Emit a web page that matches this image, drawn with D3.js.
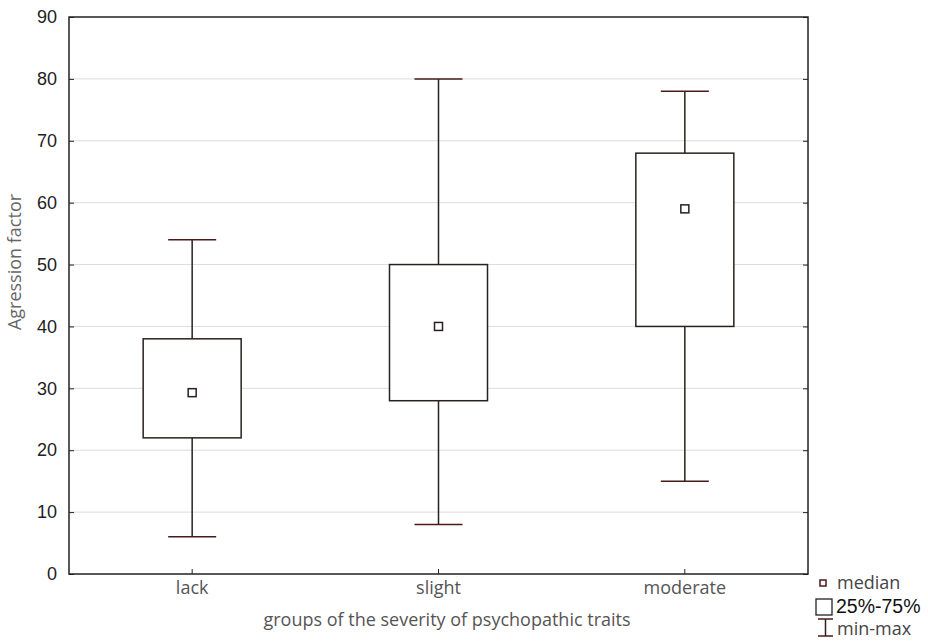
<!DOCTYPE html>
<html><head><meta charset="utf-8">
<script src="https://cdn.jsdelivr.net/npm/d3@7"></script>
<style>body{margin:0;background:#fff}</style>
</head><body>
<svg id="c" width="928" height="641"></svg>
<script>
const categories = ["lack", "slight", "moderate"];
const minVals = [6, 8, 15];
const q1Vals = [22, 28, 40];
const medianVals = [29.3, 40, 59];
const q3Vals = [38, 50, 68];
const maxVals = [54, 80, 78];
const yTicks = [0, 10, 20, 30, 40, 50, 60, 70, 80, 90];

const svg = d3.select("#c");
const L = 69, R = 808, T = 17, B = 574;
const x = d3.scaleBand().domain(categories).range([L, R]);
const y = d3.scaleLinear().domain([0, 90]).range([B, T]);

// grid
svg.append("g").selectAll("line").data(yTicks.filter(d => d > 0 && d < 90)).join("line")
  .attr("x1", L).attr("x2", R).attr("y1", d => y(d)).attr("y2", d => y(d))
  .attr("stroke", "#dcdcdc").attr("stroke-width", 1);

// axes
const gy = svg.append("g").attr("transform", `translate(${L},0)`)
  .call(d3.axisLeft(y).tickValues(yTicks).tickSize(-5).tickPadding(12));
gy.select(".domain").remove();
gy.selectAll("text").attr("font-family", "Liberation Sans, Arial").attr("font-size", 18).attr("fill", "#222");
gy.selectAll("line").attr("stroke", "#222");
const gyr = svg.append("g").attr("transform", `translate(${R},0)`)
  .call(d3.axisRight(y).tickValues(yTicks).tickSize(-5).tickFormat(""));
gyr.select(".domain").remove();
gyr.selectAll("line").attr("stroke", "#222");

const gx = svg.append("g").attr("transform", `translate(0,${B})`)
  .call(d3.axisBottom(x).tickSize(-5).tickPadding(7));
gx.select(".domain").remove();
gx.selectAll("text").attr("font-family", "Open Sans").attr("font-size", 18).attr("fill", "#555");
gx.selectAll("line").attr("stroke", "#222");

svg.append("rect").attr("x", L).attr("y", T).attr("width", R - L).attr("height", B - T)
  .attr("fill", "none").attr("stroke", "#222").attr("stroke-width", 1.5);

// boxes
const boxW = 98, capW = 48;
const g = svg.append("g");
categories.forEach((c, i) => {
  const cx = x(c) + x.bandwidth() / 2;
  g.append("line").attr("x1", cx).attr("x2", cx).attr("y1", y(maxVals[i])).attr("y2", y(minVals[i]))
    .attr("stroke", "#2a2020").attr("stroke-width", 1.5);
  [minVals[i], maxVals[i]].forEach(v => {
    g.append("line").attr("x1", cx - capW / 2).attr("x2", cx + capW / 2).attr("y1", y(v)).attr("y2", y(v))
      .attr("stroke", "#4a1a1a").attr("stroke-width", 1.5);
  });
  g.append("rect").attr("x", cx - boxW / 2).attr("y", y(q3Vals[i])).attr("width", boxW)
    .attr("height", y(q1Vals[i]) - y(q3Vals[i])).attr("fill", "#fff").attr("stroke", "#2a2020").attr("stroke-width", 1.5);
  g.append("rect").attr("x", cx - 4).attr("y", y(medianVals[i]) - 4).attr("width", 8).attr("height", 8)
    .attr("fill", "#fff").attr("stroke", "#2a2020").attr("stroke-width", 1.5);
});

// axis titles
svg.append("text").attr("transform", `translate(21,262) rotate(-90)`).attr("text-anchor", "middle")
  .attr("font-family", "Open Sans").attr("font-size", 18).attr("fill", "#666").text("Agression factor");
svg.append("text").attr("x", 447).attr("y", 626).attr("text-anchor", "middle")
  .attr("font-family", "Open Sans").attr("font-size", 18).attr("fill", "#555")
  .text("groups of the severity of psychopathic traits");

// legend
const lg = svg.append("g");
lg.append("rect").attr("x", 820).attr("y", 580).attr("width", 6).attr("height", 6)
  .attr("fill", "#fff").attr("stroke", "#4a1a1a").attr("stroke-width", 1.5);
lg.append("text").attr("x", 837).attr("y", 589).attr("font-family", "Open Sans").attr("font-size", 18).attr("fill", "#444").text("median");
lg.append("rect").attr("x", 816).attr("y", 599).attr("width", 16).attr("height", 16)
  .attr("fill", "#fff").attr("stroke", "#222").attr("stroke-width", 1.3);
lg.append("text").attr("x", 836).attr("y", 613).attr("font-family", "Liberation Sans, Arial").attr("font-size", 19.5).attr("fill", "#111").text("25%-75%");
lg.append("line").attr("x1", 818).attr("x2", 833).attr("y1", 619).attr("y2", 619).attr("stroke", "#4a1a1a").attr("stroke-width", 1.5);
lg.append("line").attr("x1", 825.5).attr("x2", 825.5).attr("y1", 619).attr("y2", 636).attr("stroke", "#2a2020").attr("stroke-width", 1.5);
lg.append("line").attr("x1", 818).attr("x2", 833).attr("y1", 636).attr("y2", 636).attr("stroke", "#4a1a1a").attr("stroke-width", 1.5);
lg.append("text").attr("x", 837).attr("y", 635).attr("font-family", "Open Sans").attr("font-size", 18).attr("fill", "#444").text("min-max");
</script>
</body></html>
